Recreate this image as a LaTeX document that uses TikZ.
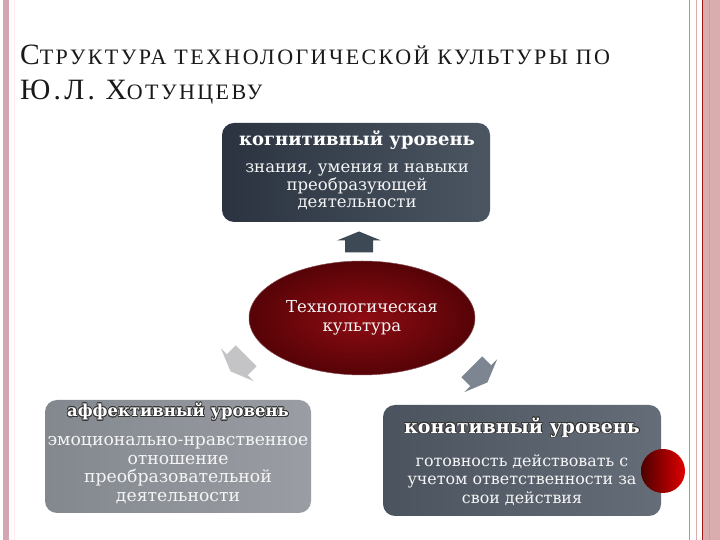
\documentclass[tikz,border=0pt]{standalone}
\usepackage{fontspec}
\setmainfont{DejaVu Serif}
\newfontfamily\titlefont[LetterSpace=11]{Liberation Serif}
\usepackage{tikz}
\usetikzlibrary{shapes.geometric,calc,positioning}
\usepackage{contour}
\contourlength{0.7pt}
\definecolor{stripepink}{HTML}{D3A6B2}
\definecolor{bandpink}{HTML}{D9ADAD}
\definecolor{edgered}{HTML}{A01818}
\definecolor{cogdark}{HTML}{2A333F}
\definecolor{coglight}{HTML}{4C5663}
\definecolor{affdark}{HTML}{83888F}
\definecolor{afflight}{HTML}{9A9DA3}
\definecolor{condark}{HTML}{4B535F}
\definecolor{conlight}{HTML}{656D78}
\definecolor{coreinner}{HTML}{8E0C13}
\definecolor{coreouter}{HTML}{560307}
\definecolor{arrowslate}{HTML}{3E4956}
\definecolor{arrowlight}{HTML}{C4C4C6}
\definecolor{arrowgray}{HTML}{7C8591}
\newcommand\capbig{\fontsize{29.5}{29.5}\selectfont}
\tikzset{
  slidetitle/.style={font=\titlefont\fontsize{22}{24}\selectfont, text=black!90, inner sep=0pt},
  levelbox/.style={rectangle, rounded corners=12pt, inner sep=0pt},
  levelhead/.style={font=\bfseries\fontsize{18}{20}\selectfont, text=white, inner sep=0pt},
  leveltext/.style={font=\fontsize{16.5}{17.5}\selectfont, text=white!92!gray, align=center, inner sep=0pt},
  core/.style={ellipse, minimum width=226pt, minimum height=114pt, inner color=coreinner, outer color=coreouter, draw=coreouter!70!white, line width=0.5pt},
  upblock/.pic={
    \fill[pic actions] (-14,-11) -- (-14,1) -- (-22,1) -- (0,10) -- (22,1) -- (14,1) -- (14,-11) -- cycle;
  }
}
\begin{document}
\begin{tikzpicture}[x=1pt,y=1pt]
  \useasboundingbox (0,0) rectangle (720,540);
  \fill[white] (0,0) rectangle (720,540);

  % frame
  \fill[stripepink] (3,0) rectangle (9,540);
  \draw[green!6!white, line width=1pt] (11,0) -- (11,540);
  \draw[red!8!white, line width=1pt] (14.5,0) -- (14.5,540);
  \draw[black!15!bandpink, line width=1.5pt] (689.5,0) -- (689.5,540);
  \draw[bandpink, line width=1.5pt] (696.5,0) -- (696.5,540);
  \fill[bandpink] (703,0) rectangle (720,540);
  \draw[edgered, line width=1pt] (702.5,0) -- (702.5,540);
  \draw[black!8!bandpink, line width=1pt] (709,0) -- (709,540);

  % title
  \node[slidetitle, anchor=base west] (title1) at (20,475) {{\capbig С}ТРУКТУРА ТЕХНОЛОГИЧЕСКОЙ КУЛЬТУРЫ ПО};
  \node[slidetitle, anchor=base west] (title2) at (20,440) {{\capbig Ю.Л. Х}ОТУНЦЕВУ};

  % levels
  \node[levelbox, minimum width=268pt, minimum height=99pt, left color=cogdark, right color=coglight] (cogbox) at (356,367.5) {};
  \node[levelhead] (coghead) at (357,400) {когнитивный уровень};
  \node[leveltext, anchor=north] (cogtext) at (357,376) {знания, умения и навыки\\преобразующей\\деятельности};

  \node[levelbox, minimum width=266pt, minimum height=113pt, left color=affdark, right color=afflight] (affbox) at (178,83.5) {};
  \node[levelhead, font=\bfseries\fontsize{16.5}{19}\selectfont] (affhead) at (178,128) {\contour{black!80}{аффективный уровень}};
  \node[leveltext, anchor=north, font=\fontsize{17.2}{18.7}\selectfont] (afftext) at (178,104) {эмоционально-нравственное\\отношение\\преобразовательной\\деятельности};

  \node[levelbox, minimum width=278pt, minimum height=111pt, left color=condark, right color=conlight] (conbox) at (522,79.5) {};
  \node[levelhead, font=\bfseries\fontsize{19}{21}\selectfont] (conhead) at (522,112) {\contour{black!80}{конативный уровень}};
  \node[leveltext, anchor=north, font=\fontsize{15.9}{18.7}\selectfont] (context) at (522,86) {готовность действовать с\\учетом ответственности за\\свои действия};
  \node[circle, minimum size=44pt, left color=red!30!black, middle color=red!55!black, right color=red!88!black] (dot) at (663,69) {};

  % core
  \node[core, text=white!92!gray, align=center, font=\fontsize{16.5}{19.5}\selectfont] (core) at (362,222) {Технологическая\\культура};
  \pic[fill=arrowslate] at ($(cogbox.south)!0.5!(core.north)$) {upblock};
  \pic[fill=arrowlight, rotate=135, scale=1.05] at (238,176) {upblock};
  \pic[fill=arrowgray, rotate=-135, scale=1.05] at (480,165) {upblock};
\end{tikzpicture}
\end{document}
